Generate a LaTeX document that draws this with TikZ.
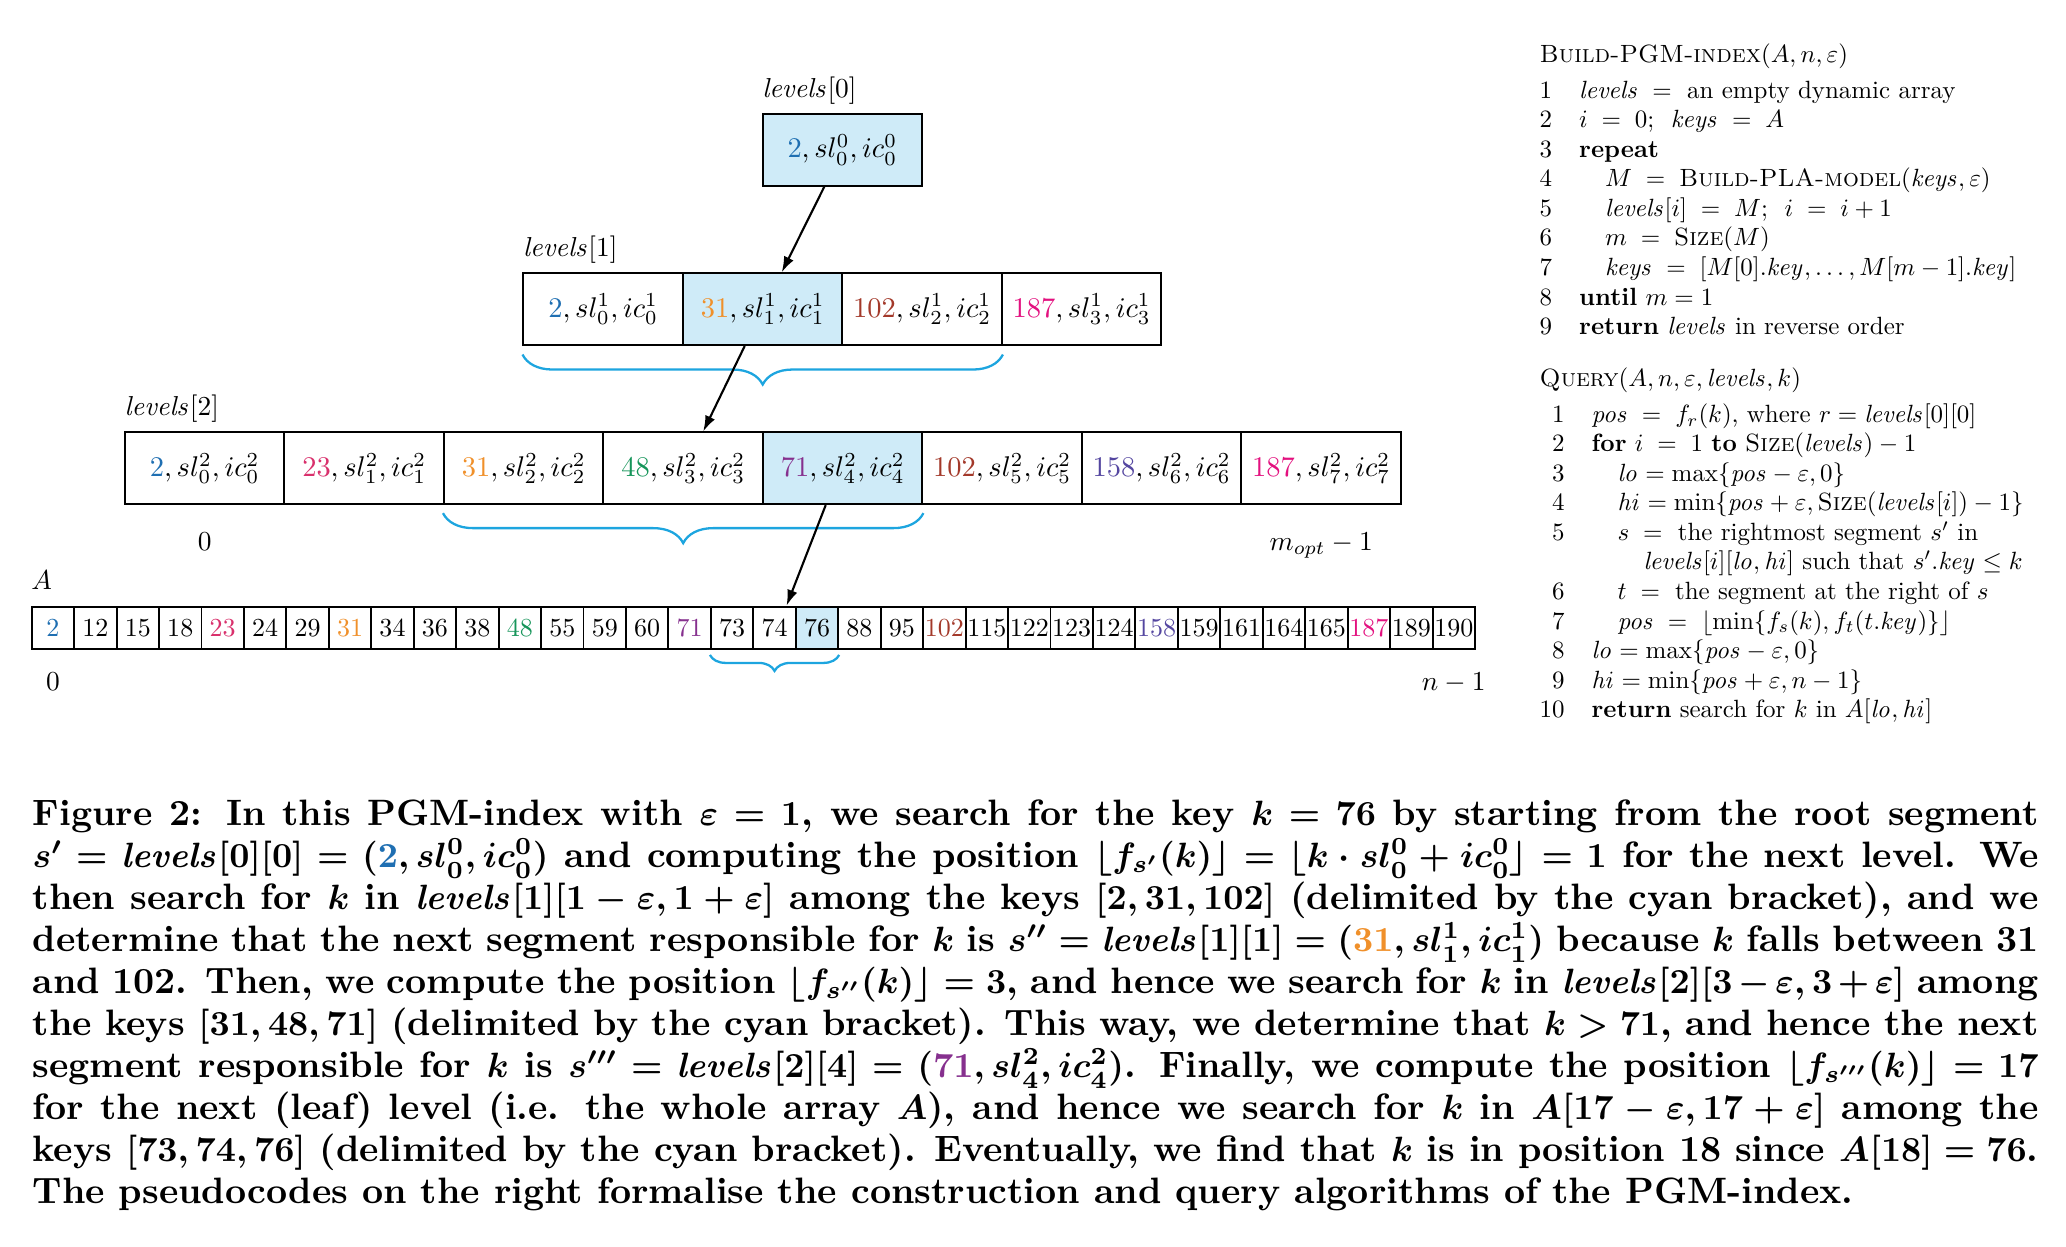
\documentclass[tikz,border=0pt]{standalone}
\usepackage{xcolor}
\usepackage{graphicx}
\usetikzlibrary{arrows.meta, positioning, calc, decorations.pathreplacing}
\definecolor{KeyBlue}{HTML}{1F6FB2}
\definecolor{KeyCrimson}{HTML}{D9306C}
\definecolor{KeyOrange}{HTML}{F0902A}
\definecolor{KeyGreen}{HTML}{16955A}
\definecolor{KeyPurple}{HTML}{86308E}
\definecolor{KeyBrown}{HTML}{A3392A}
\definecolor{KeyIndigo}{HTML}{5446A0}
\definecolor{KeyMagenta}{HTML}{E3117F}
\definecolor{SegFill}{HTML}{CFEBF8}
\definecolor{BraceCyan}{HTML}{1DA5DF}

\newcommand{\lv}{\mathit{levels}}
\newcommand{\asn}{\mathrel{\;=\;}}
\newcommand{\pind}{\hspace*{0.366cm}}
\newcommand{\segtxt}[1]{\scalebox{0.81}{#1}}
\newcommand{\keytxt}[1]{\scalebox{0.74}{#1}}
\newcommand{\lbltxt}[1]{\scalebox{0.78}{#1}}
\newcommand{\pgmcaption}{%
  Figure 2: In this PGM-index with $\varepsilon = 1$, we search for the key $k = 76$ by starting from the root segment\linebreak
  $s' = \lv[0][0] = (\textcolor{KeyBlue}{2}, sl_0^0, ic_0^0)$ and computing the position
  $\lfloor f_{s'}(k)\rfloor = \lfloor k\cdot sl_0^0 + ic_0^0\rfloor = 1$ for the next level. We\linebreak
  then search for $k$ in $\lv[1][1-\varepsilon, 1+\varepsilon]$ among the keys $[2, 31, 102]$ (delimited by the cyan
  bracket), and we\linebreak
  determine that the next segment responsible for $k$ is $s'' = \lv[1][1] = (\textcolor{KeyOrange}{31}, sl_1^1, ic_1^1)$
  because $k$ falls between 31\linebreak
  and 102. Then, we compute the position $\lfloor f_{s''}(k)\rfloor = 3$, and hence we search for $k$ in
  $\lv[2][3-\varepsilon, 3+\varepsilon]$ among\linebreak
  the keys $[31, 48, 71]$ (delimited by the cyan bracket). This way, we determine that $k > 71$, and hence the
  next\linebreak
  segment responsible for $k$ is $s''' = \lv[2][4] = (\textcolor{KeyPurple}{71}, sl_4^2, ic_4^2)$. Finally, we compute
  the position $\lfloor f_{s'''}(k)\rfloor = 17$\linebreak
  for the next (leaf) level (i.e. the whole array $A$), and hence we search for $k$ in
  $A[17-\varepsilon, 17+\varepsilon]$ among the\linebreak
  keys $[73, 74, 76]$ (delimited by the cyan bracket). Eventually, we find that $k$ is in position 18 since
  $A[18] = 76$.\linebreak
  The pseudocodes on the right formalise the construction and query algorithms of the PGM-index.}

\tikzset{
  segbox/.style={draw=black, line width=0.55pt, minimum width=1.595cm, minimum height=0.717cm, inner sep=0pt},
  keycell/.style={draw=black, line width=0.55pt, minimum width=0.4245cm, minimum height=0.423cm, inner sep=0pt},
  lvlabel/.style={anchor=base west, inner sep=0pt},
  idxlabel/.style={anchor=base, inner sep=0pt},
  bracket/.style={draw=BraceCyan, line width=0.65pt, decorate, decoration={brace, mirror, amplitude=#1}},
  seek/.style={-{Latex[length=4.5pt,width=3pt]}, line width=0.6pt},
  pseudo/.style={anchor=north west, inner sep=0pt},
}

\begin{document}
\begin{tikzpicture}
\useasboundingbox (0,0) rectangle (20.66,-12.46);

\node[segbox, fill=SegFill] (l0) at (8.423,-1.499) {\segtxt{$\textcolor{KeyBlue}{2}, sl_0^0, ic_0^0$}};
\node[lvlabel] at ([yshift=0.16cm]l0.north west) {\lbltxt{$\lv[0]$}};

\foreach \k/\c/\f [count=\i from 0] in {2/KeyBlue/white, 31/KeyOrange/SegFill, 102/KeyBrown/white, 187/KeyMagenta/white}
  \node[segbox, fill=\f] (l1c\i) at ({6.032+1.595*\i},-3.092) {\segtxt{$\textcolor{\c}{\k}, sl_{\i}^1, ic_{\i}^1$}};
\node[lvlabel] at ([yshift=0.16cm]l1c0.north west) {\lbltxt{$\lv[1]$}};

\foreach \k/\c/\f [count=\i from 0] in {2/KeyBlue/white, 23/KeyCrimson/white, 31/KeyOrange/white, 48/KeyGreen/white,
    71/KeyPurple/SegFill, 102/KeyBrown/white, 158/KeyIndigo/white, 187/KeyMagenta/white}
  \node[segbox, fill=\f] (l2c\i) at ({2.047+1.595*\i},-4.683) {\segtxt{$\textcolor{\c}{\k}, sl_{\i}^2, ic_{\i}^2$}};
\node[lvlabel] at ([yshift=0.16cm]l2c0.north west) {\lbltxt{$\lv[2]$}};

\foreach \v/\c [count=\i from 0] in {2/KeyBlue, 12/black, 15/black, 18/black, 23/KeyCrimson, 24/black, 29/black,
    31/KeyOrange, 34/black, 36/black, 38/black, 48/KeyGreen, 55/black, 59/black, 60/black, 71/KeyPurple,
    73/black, 74/black, 76/black, 88/black, 95/black, 102/KeyBrown, 115/black, 122/black, 123/black,
    124/black, 158/KeyIndigo, 159/black, 161/black, 164/black, 165/black, 187/KeyMagenta, 189/black, 190/black} {
  \ifnum\i=18 \def\f{SegFill}\else\def\f{white}\fi
  \node[keycell, fill=\f] (a\i) at ({0.529+0.4245*\i},-6.278) {\keytxt{\textcolor{\c}{\v}}};
}
\node[lvlabel] at ([yshift=0.16cm]a0.north west) {\lbltxt{$A$}};

\draw[bracket=0.3cm] ([yshift=-0.085cm]l1c0.south west) -- ([yshift=-0.085cm]l1c2.south east);
\draw[bracket=0.3cm] ([yshift=-0.08cm]l2c2.south west) -- ([yshift=-0.08cm]l2c4.south east);
\draw[bracket=0.16cm] ([yshift=-0.05cm]a16.south west) -- ([yshift=-0.05cm]a18.south east);

\node[idxlabel] at ([yshift=-0.45cm]l2c0.south) {\lbltxt{$0$}};
\node[idxlabel] at ([yshift=-0.45cm]l2c7.south) {\lbltxt{$m_{opt}-1$}};
\node[idxlabel] at ([yshift=-0.41cm]a0.south) {\lbltxt{$0$}};
\node[idxlabel] at ([yshift=-0.41cm]a33.south) {\lbltxt{$n-1$}};

\draw[seek] ([xshift=-0.18cm]l0.south) -- ([xshift=0.19cm]l1c1.north);
\draw[seek] ([xshift=-0.18cm]l1c1.south) -- ([xshift=0.2cm]l2c3.north);
\draw[seek] ([xshift=-0.17cm]l2c4.south) -- ([xshift=0.12cm]a17.north);

\node[pseudo] (build) at (15.39,-0.41) {\scalebox{0.71}{\fontsize{10}{11.83}\selectfont
  \begin{tabular}{@{}r@{\hspace{0.38cm}}l@{}}
  \multicolumn{2}{@{}l}{\textsc{Build-PGM-index}$(A, n, \varepsilon)$}\\[2.6pt]
  1 & $\lv \asn$ an empty dynamic array\\
  2 & $i \asn 0$;\ \ $\mathit{keys} \asn A$\\
  3 & \textbf{repeat}\\
  4 & \pind $M \asn \textsc{Build-PLA-model}(\mathit{keys}, \varepsilon)$\\
  5 & \pind $\lv[i] \asn M$;\ \ $i \asn i+1$\\
  6 & \pind $m \asn \textsc{Size}(M)$\\
  7 & \pind $\mathit{keys} \asn [M[0].\mathit{key}, \ldots, M[m-1].\mathit{key}]$\\
  8 & \textbf{until} $m = 1$\\
  9 & \textbf{return} $\lv$ in reverse order
\end{tabular}}};

\node[pseudo] (query) at (15.39,-3.65) {\scalebox{0.71}{\fontsize{10}{11.83}\selectfont
  \begin{tabular}{@{}r@{\hspace{0.38cm}}l@{}}
  \multicolumn{2}{@{}l}{\textsc{Query}$(A, n, \varepsilon, \lv, k)$}\\[2.6pt]
  1 & $\mathit{pos} \asn f_r(k)$, where $r = \lv[0][0]$\\
  2 & \textbf{for} $i \asn 1$ \textbf{to} $\textsc{Size}(\lv) - 1$\\
  3 & \pind $\mathit{lo} = \max\{\mathit{pos}-\varepsilon, 0\}$\\
  4 & \pind $\mathit{hi} = \min\{\mathit{pos}+\varepsilon, \textsc{Size}(\lv[i]) - 1\}$\\
  5 & \pind $s \asn$ the rightmost segment $s'$ in\\
    & \pind\pind $\lv[i][\mathit{lo}, \mathit{hi}]$ such that $s'.\mathit{key} \le k$\\
  6 & \pind $t \asn$ the segment at the right of $s$\\
  7 & \pind $\mathit{pos} \asn \lfloor \min\{f_s(k), f_t(t.\mathit{key})\}\rfloor$\\
  8 & $\mathit{lo} = \max\{\mathit{pos}-\varepsilon, 0\}$\\
  9 & $\mathit{hi} = \min\{\mathit{pos}+\varepsilon, n-1\}$\\
  10 & \textbf{return} search for $k$ in $A[\mathit{lo}, \mathit{hi}]$
\end{tabular}}};

\node[anchor=north west, inner sep=0pt] (caption) at (0.32,-7.99)
  {\parbox[t]{20.06cm}{\fontsize{10.45}{11.95}\selectfont\bfseries\boldmath\pgmcaption}};
\end{tikzpicture}
\end{document}
